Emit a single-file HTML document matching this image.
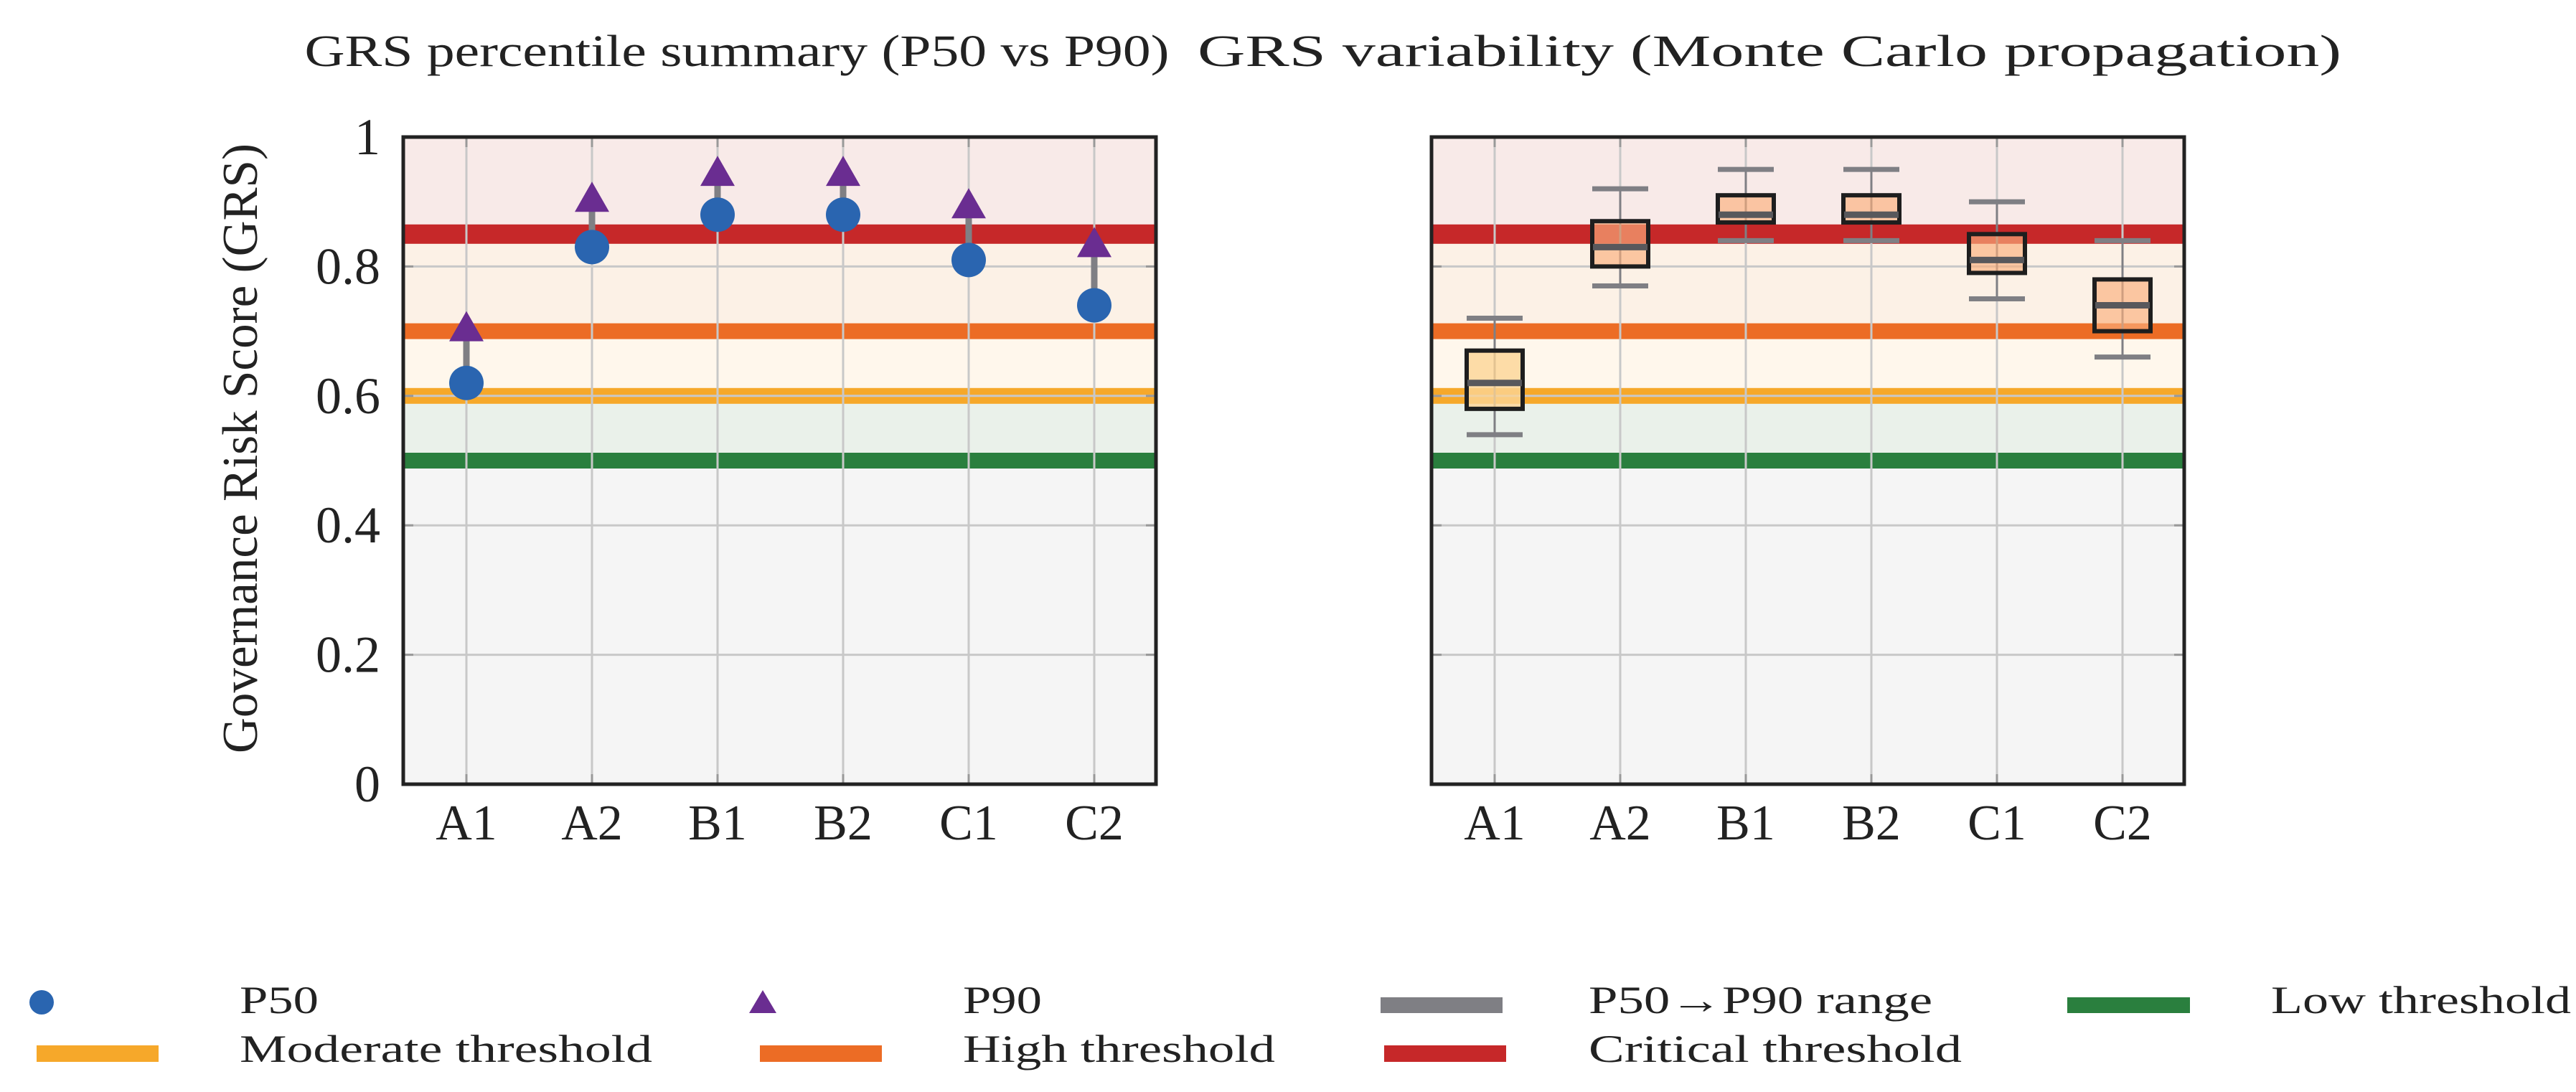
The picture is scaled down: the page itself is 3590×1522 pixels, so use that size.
<!DOCTYPE html>
<html><head><meta charset="utf-8"><style>
html,body{margin:0;padding:0;background:#fff;}
svg text{font-family:"Liberation Serif",serif;fill:#222;}
</style></head><body>
<svg id="chart" width="3590" height="1517" viewBox="0 0 3590 1517" xmlns="http://www.w3.org/2000/svg">
<text x="1027" y="92" font-size="62" text-anchor="middle" textLength="1205" lengthAdjust="spacingAndGlyphs">GRS percentile summary (P50 vs P90)</text>
<text x="2466" y="92" font-size="62" text-anchor="middle" textLength="1594" lengthAdjust="spacingAndGlyphs">GRS variability (Monte Carlo propagation)</text>
<text x="0" y="0" font-size="70" text-anchor="middle" textLength="850" lengthAdjust="spacingAndGlyphs" transform="translate(358,625) rotate(-90)">Governance Risk Score (GRS)</text>
<g id="left"></g>
<g id="right"></g>
<g id="legend">
  <circle cx="58" cy="1397" r="17" fill="#2a65b0"/>
  <text x="334" y="1412" font-size="54" textLength="110" lengthAdjust="spacingAndGlyphs">P50</text>
  <polygon points="1063,1380 1082,1412 1044,1412" fill="#6a2d91"/>
  <text x="1342" y="1412" font-size="54" textLength="110" lengthAdjust="spacingAndGlyphs">P90</text>
  <rect x="1924" y="1390" width="170" height="22" fill="#7f7f84"/>
  <text x="2214" y="1412" font-size="54" textLength="479" lengthAdjust="spacingAndGlyphs">P50→P90 range</text>
  <rect x="2881" y="1390" width="171" height="22" fill="#2a7f3e"/>
  <text x="3165" y="1412" font-size="54" textLength="418" lengthAdjust="spacingAndGlyphs">Low threshold</text>
  <rect x="51" y="1457" width="170" height="23" fill="#f6a82a"/>
  <text x="334" y="1480" font-size="54" textLength="575" lengthAdjust="spacingAndGlyphs">Moderate threshold</text>
  <rect x="1059" y="1457" width="170" height="23" fill="#ec6c25"/>
  <text x="1342" y="1480" font-size="54" textLength="435" lengthAdjust="spacingAndGlyphs">High threshold</text>
  <rect x="1929" y="1457" width="170" height="23" fill="#c62829"/>
  <text x="2214" y="1480" font-size="54" textLength="520" lengthAdjust="spacingAndGlyphs">Critical threshold</text>
</g>
</svg>
<script>
const categories = ["A1","A2","B1","B2","C1","C2"];
const p50 = [0.62,0.83,0.88,0.88,0.81,0.74];
const p90 = [0.70,0.90,0.94,0.94,0.89,0.83];
const boxLow = [0.58,0.80,0.868,0.868,0.79,0.70];
const boxHigh = [0.67,0.87,0.91,0.91,0.85,0.78];
const whiskLow = [0.54,0.77,0.84,0.84,0.75,0.66];
const whiskHigh = [0.72,0.92,0.95,0.95,0.90,0.84];
const yTicks = [0,0.2,0.4,0.6,0.8,1];
const yTickLabels = ["0","0.2","0.4","0.6","0.8","1"];
const thresholds = [0.5,0.6,0.7,0.85];
const thresholdColors = ["#2a7f3e","#f6a82a","#ec6c25","#c62829"];
const zoneEdges = [0,0.5,0.6,0.7,0.85,1];
const zoneColors = ["#f5f5f5","#eaf1ea","#fff7ec","#fcf1e6","#f8eae8"];

const NS="http://www.w3.org/2000/svg";
const T=191,B=1093;
function yS(v){return B-(B-T)*v;}
function mk(parent,tag,attrs){const e=document.createElementNS(NS,tag);for(const k in attrs)e.setAttribute(k,attrs[k]);parent.appendChild(e);return e;}

function panel(g,L,R,prefix){
  const xS=i=>L+88+i*175;
  for(let i=0;i<zoneColors.length;i++){
    const r=mk(g,'rect',{x:L,y:yS(zoneEdges[i+1]),width:R-L,height:yS(zoneEdges[i])-yS(zoneEdges[i+1]),fill:zoneColors[i]});
    
    
  }
  for(let i=0;i<thresholds.length;i++){
    const h=thresholds[i]===0.85?27:22;
    const r=mk(g,'rect',{x:L,y:yS(thresholds[i])-h/2,width:R-L,height:h,fill:thresholdColors[i]});
    
    
  }
  for(let i=1;i<yTicks.length-1;i++){
    const l=mk(g,'line',{x1:L,x2:R,y1:yS(yTicks[i]),y2:yS(yTicks[i]),stroke:'#c8c8c8','stroke-width':3});
    
    
    mk(g,'line',{x1:L,x2:L+14,y1:yS(yTicks[i]),y2:yS(yTicks[i]),stroke:'#999','stroke-width':3});
    mk(g,'line',{x1:R-14,x2:R,y1:yS(yTicks[i]),y2:yS(yTicks[i]),stroke:'#999','stroke-width':3});
  }
  for(let i=0;i<categories.length;i++){
    const l=mk(g,'line',{x1:xS(i),x2:xS(i),y1:T,y2:B,stroke:'#c8c8c8','stroke-width':3});
    
    
    mk(g,'line',{x1:xS(i),x2:xS(i),y1:T,y2:T+14,stroke:'#999','stroke-width':3});
    mk(g,'line',{x1:xS(i),x2:xS(i),y1:B-14,y2:B,stroke:'#999','stroke-width':3});
    const t=mk(g,'text',{x:xS(i),y:1170,'font-size':70,'text-anchor':'middle'});
    t.textContent=categories[i];
    
    
  }
  return xS;
}

const left=document.getElementById('left');
const xL=panel(left,562,1611,'left');
for(let i=0;i<yTicks.length;i++){
  const t=mk(left,'text',{x:530,y:yS(yTicks[i])+24,'font-size':72,'text-anchor':'end'});
  t.textContent=yTickLabels[i];
  
  
}
for(let i=0;i<categories.length;i++){
  const x=xL(i);
  const l=mk(left,'line',{x1:x,x2:x,y1:yS(p50[i]),y2:yS(p90[i]),stroke:'#7f7f84','stroke-width':9});
  
  
  const y=yS(p90[i]);
  const tri=mk(left,'polygon',{points:`${x},${y-28} ${x+24},${y+14} ${x-24},${y+14}`,fill:'#6a2d91'});
  
  
  const c=mk(left,'circle',{cx:x,cy:yS(p50[i]),r:24,fill:'#2a65b0'});
  
  
}
mk(left,'rect',{x:562,y:191,width:1049,height:902,fill:'none',stroke:'#222','stroke-width':5});

const right=document.getElementById('right');
const xR=panel(right,1995,3044,'right');
for(let i=0;i<categories.length;i++){
  const x=xR(i);
  const w=mk(right,'line',{x1:x,x2:x,y1:yS(whiskLow[i]),y2:yS(whiskHigh[i]),stroke:'#7f7f84','stroke-width':3});
  
  
  for(const v of [whiskLow[i],whiskHigh[i]]){
    const cap=mk(right,'line',{x1:x-39,x2:x+39,y1:yS(v),y2:yS(v),stroke:'#7f7f84','stroke-width':7});
    
    
  }
  const fill=i===0?'rgba(252,212,150,0.8)':'rgba(250,175,125,0.65)';
  const b=mk(right,'rect',{x:x-39,y:yS(boxHigh[i]),width:78,height:yS(boxLow[i])-yS(boxHigh[i]),fill:fill,stroke:'#1e1e1e','stroke-width':6});
  
  
  const m=mk(right,'line',{x1:x-38,x2:x+38,y1:yS(p50[i]),y2:yS(p50[i]),stroke:'#58585c','stroke-width':9});
  
  
}
mk(right,'rect',{x:1995,y:191,width:1049,height:902,fill:'none',stroke:'#222','stroke-width':5});
</script>
</body></html>
